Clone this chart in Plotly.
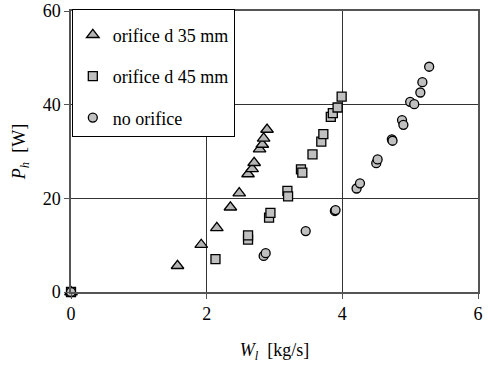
import plotly.graph_objects as go

# Heating power P_h versus liquid mass flow W_l for three configurations
w_35 = [0.0, 1.57, 1.92, 2.15, 2.35, 2.48, 2.61, 2.67, 2.70, 2.78, 2.82, 2.84, 2.89]
p_35 = [0.0, 5.6, 10.1, 13.7, 18.1, 21.1, 25.2, 26.3, 27.6, 30.5, 31.5, 32.8, 34.7]

w_45 = [0.0, 2.13, 2.61, 2.61, 2.92, 2.94, 3.19, 3.20, 3.39, 3.41, 3.56,
        3.69, 3.72, 3.83, 3.86, 3.93, 3.99]
p_45 = [0.0, 7.0, 11.2, 12.1, 15.9, 16.9, 21.6, 20.4, 26.2, 25.5, 29.4,
        32.1, 33.7, 37.4, 38.2, 39.4, 41.7]

w_none = [0.0, 2.84, 2.87, 3.46, 3.89, 3.90, 4.21, 4.26, 4.50, 4.52, 4.73,
          4.74, 4.88, 4.90, 5.00, 5.06, 5.15, 5.18, 5.28]
p_none = [0.0, 7.7, 8.3, 13.0, 17.3, 17.5, 22.1, 23.2, 27.5, 28.3, 32.6,
          32.3, 36.7, 35.7, 40.6, 40.1, 42.6, 44.8, 48.1]

x_ticks = [0, 2, 4, 6]
y_ticks = [0, 20, 40, 60]

FONT = "'Liberation Serif', 'DejaVu Serif', serif"
fig = go.Figure()

series = [
    ("orifice d 35 mm", w_35, p_35, "triangle-up", 11, "#b4b4b4"),
    ("orifice d 45 mm", w_45, p_45, "square", 9, "#c0c0c0"),
    ("no orifice", w_none, p_none, "circle", 9, "#c0c0c0"),
]
for i, (name, xs, ys, sym, size, fill) in enumerate(series):
    fig.add_trace(go.Scatter(
        x=xs, y=ys, mode="markers", name=name, legendgroup=f"g{i}",
        marker=dict(symbol=sym, size=size, color=fill,
                    line=dict(color="black", width=1.3)),
        cliponaxis=False,
    ))

fig.update_layout(
    width=488, height=367,
    margin=dict(l=71, r=10, t=11, b=75, autoexpand=False),
    paper_bgcolor="white", plot_bgcolor="white",
    font=dict(family=FONT, size=16, color="black"),
    showlegend=True,
    legend=dict(
        x=0.002, y=1.007, xanchor="left", yanchor="top",
        bgcolor="white", bordercolor="black", borderwidth=1,
        font=dict(family=FONT, size=18, color="black"),
        title=dict(text=" ", font=dict(size=5)),
        tracegroupgap=15, traceorder="grouped",
        entrywidth=180, itemwidth=30,
    ),
    xaxis=dict(
        range=[0, 6], tickvals=x_ticks, ticktext=[str(v) for v in x_ticks],
        showgrid=True, gridcolor="#333333", gridwidth=1,
        showline=True, linecolor="#555555", linewidth=1.5, mirror=True,
        ticks="outside", ticklen=5, tickcolor="#555555",
        zeroline=False, automargin=False,
        title=dict(text="<i>W<sub>l</sub></i>  [kg/s]", standoff=20,
                   font=dict(family=FONT, size=18)),
        tickfont=dict(family=FONT, size=18),
    ),
    yaxis=dict(
        range=[0, 60], tickvals=y_ticks, ticktext=[str(v) for v in y_ticks],
        showgrid=True, gridcolor="#333333", gridwidth=1,
        showline=True, linecolor="#555555", linewidth=1.5, mirror=True,
        ticks="outside", ticklen=5, tickcolor="#555555",
        zeroline=False, automargin=False,
        title=dict(text="<i>P<sub>h</sub></i>  [W]", standoff=12,
                   font=dict(family=FONT, size=18)),
        tickfont=dict(family=FONT, size=18),
    ),
)

fig.write_html("out.html")
